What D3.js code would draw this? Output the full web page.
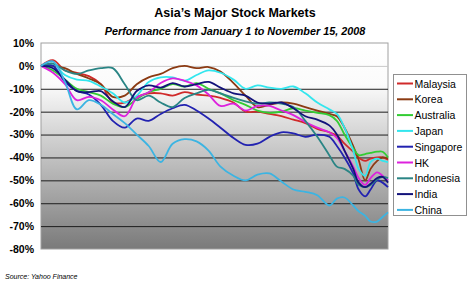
<!DOCTYPE html>
<html>
<head>
<meta charset="utf-8">
<script src="https://cdn.jsdelivr.net/npm/d3@7"></script>
<style>
  body { margin: 0; background: #fff; }
  text { font-family: Arial, "Liberation Sans", sans-serif; }
</style>
</head>
<body>
<script>
// days since Jan 1, 2008 (sampled denser near the Oct/Nov crash)
var days = [0, 11, 22, 33, 44, 55, 66, 77, 88, 99, 110, 121, 132, 143, 154, 165, 177,
            188, 199, 210, 221, 232, 243, 254, 265, 272, 279, 287, 292, 298, 303, 309, 314, 319];

var malaysia  = [0, 2.5, -2, -3, -4.5, -8, -16, -16, -13.5, -12, -12, -13, -11.5, -12.5, -13, -14, -16,
                 -20, -20, -21, -22, -23.5, -25, -27.5, -29, -30.5, -34, -37.5, -40, -41.5, -40.5, -40, -40, -41];
var korea     = [0, 0, -1, -3.5, -5.5, -8, -13.5, -13, -8, -5, -3.5, -1, 0, -1, -0.5, -2.5, -7.5,
                 -13, -18, -17, -16, -16.5, -18, -19.5, -21, -22, -27, -35, -41, -50, -45, -41.5, -40, -40.5];
var australia = [0, -2, -6, -10, -11.5, -13, -16.5, -18, -14.5, -11.5, -10, -8, -9, -7.5, -10, -12, -15,
                 -17, -19.5, -20.5, -20, -18.5, -19.5, -20.5, -21.5, -24, -30, -36, -39, -38.5, -38, -37.5, -37.5, -40];
var japan     = [0, 1, -4, -6, -6.5, -9, -12, -16, -13, -7, -5, -5, -6.5, -4, -2, -3, -6,
                 -10, -8.5, -9.5, -10, -9, -12, -16, -19, -21, -27, -37, -45, -48, -42, -40.5, -41.5, -42];
var singapore = [0, 0, -7, -11, -12.5, -17, -24, -27, -23, -24, -21, -18.5, -17, -19.5, -23, -27, -31.5,
                 -34.5, -34, -31, -29, -29.5, -31, -30, -31, -35, -40, -47, -54, -57, -54, -50, -51, -53];
var hk        = [0, -3, -8, -15, -13.5, -15, -19, -22, -14, -11.5, -7.5, -5.5, -6.5, -8.5, -12.5, -17.5, -16.5,
                 -19.5, -17.5, -17.5, -19.5, -21.5, -24.5, -27, -29, -31.5, -37, -44, -49, -52, -49, -46.5, -48, -50];
var indonesia = [0, 1, -2, -3.5, -2, -1, -1, -8, -15, -13, -16, -18, -14, -12, -10.5, -12, -14,
                 -15.5, -16.5, -16, -16.5, -18, -24, -31, -39, -44, -45, -48, -52, -53, -52, -49.5, -48.5, -49];
var india     = [0, -1, -6, -11, -11.5, -11, -15.5, -18, -11, -8.5, -9.5, -7.5, -9, -8, -7, -9.5, -12,
                 -13, -16, -16.5, -16, -18.5, -22, -23.5, -26, -30, -37, -45, -51, -53, -51.5, -49, -48.5, -51];
var china     = [0, 2, -7, -19, -15, -17, -21, -25, -30, -35, -42, -34, -32, -33, -37, -44, -48,
                 -50, -47.5, -47, -50.5, -54, -55, -56.5, -61, -58, -57.5, -61, -63.5, -65.5, -68, -68, -66, -64];

var names  = ["Malaysia", "Korea", "Australia", "Japan", "Singapore", "HK", "Indonesia", "India", "China"];
var values = [malaysia, korea, australia, japan, singapore, hk, indonesia, india, china];
var colors = ["#d02a2a", "#8b3a12", "#33cc33", "#33e6ee", "#2222b0", "#dd22dd", "#2a8585", "#12127a", "#3cb4e2"];
var yTicks = [10, 0, -10, -20, -30, -40, -50, -60, -70, -80];

var W = 470, H = 283;
var svg = d3.select("body").append("svg").attr("width", W).attr("height", H);

var x = d3.scaleLinear().domain([0, 319]).range([41, 388]);
var y = d3.scaleLinear().domain([-80, 10]).range([249, 43]);

// titles
svg.append("text").attr("x", 235).attr("y", 17).attr("text-anchor", "middle")
    .style("font-size", "12.5px").style("font-weight", "bold").text("Asia\u2019s Major Stock Markets");
svg.append("text").attr("x", 235).attr("y", 35).attr("text-anchor", "middle")
    .style("font-size", "10.8px").style("font-weight", "bold").style("font-style", "italic")
    .text("Performance from January 1 to November 15, 2008");

// plot background gradient
var grad = svg.append("defs").append("linearGradient").attr("id", "bg")
    .attr("x1", 0).attr("y1", 0).attr("x2", 0).attr("y2", 1);
grad.append("stop").attr("offset", "0").attr("stop-color", "#ffffff");
grad.append("stop").attr("offset", "0.2").attr("stop-color", "#fbfbfb");
grad.append("stop").attr("offset", "1").attr("stop-color", "#7a7a7a");

svg.append("rect").attr("x", x.range()[0]).attr("y", y(10))
    .attr("width", x.range()[1] - x.range()[0]).attr("height", y(-80) - y(10))
    .attr("fill", "url(#bg)").attr("stroke", "#a0a0a0").attr("stroke-width", 1);

// gridlines
svg.append("g").selectAll("line")
    .data(yTicks.filter(function (d) { return d < 10 && d > -80; }))
    .enter().append("line")
    .attr("x1", x.range()[0]).attr("x2", x.range()[1])
    .attr("y1", function (d) { return y(d) + 0.5; })
    .attr("y2", function (d) { return y(d) + 0.5; })
    .attr("stroke", function (d) { return d === 0 ? "#c8c8c8" : "#1e1e1e"; })
    .attr("stroke-width", 1);

// y axis labels
var yAxis = d3.axisLeft(y).tickValues(yTicks).tickSize(0).tickPadding(7)
    .tickFormat(function (d) { return d + "%"; });
var ya = svg.append("g").attr("transform", "translate(" + x.range()[0] + ",0)").call(yAxis);
ya.select(".domain").remove();
ya.selectAll("text").style("font-size", "10.5px").style("font-weight", "bold")
    .style("font-family", "Arial, 'Liberation Sans', sans-serif").attr("fill", "#000");

// series
var line = d3.line()
    .x(function (d, i) { return x(days[i]); })
    .y(function (d) { return y(d); })
    .curve(d3.curveCatmullRom.alpha(0.5));

svg.append("g").selectAll("path")
    .data(values)
    .enter().append("path")
    .attr("d", line)
    .attr("fill", "none")
    .attr("stroke", function (d, i) { return colors[i]; })
    .attr("stroke-width", 1.8)
    .attr("stroke-linejoin", "round");

// legend
var lg = svg.append("g");
lg.append("rect").attr("x", 393.5).attr("y", 74.5).attr("width", 73).attr("height", 141)
    .attr("fill", "#fff").attr("stroke", "#909090");
var item = lg.selectAll("g.item").data(names).enter().append("g")
    .attr("transform", function (d, i) { return "translate(0," + (83.5 + i * 15.8) + ")"; });
item.append("line").attr("x1", 397).attr("x2", 413).attr("y1", 0).attr("y2", 0)
    .attr("stroke", function (d, i) { return colors[i]; }).attr("stroke-width", 2);
item.append("text").attr("x", 414.5).attr("y", 4)
    .style("font-size", "10.5px").text(function (d) { return d; });

// source
svg.append("text").attr("x", 5).attr("y", 279)
    .style("font-size", "7px").style("font-style", "italic").text("Source: Yahoo Finance");
</script>
</body>
</html>
